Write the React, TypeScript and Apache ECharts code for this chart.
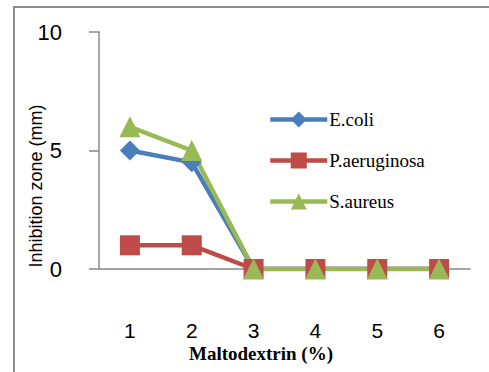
import React, { useEffect, useRef } from "react";
import * as echarts from "echarts";

const categories = ["1", "2", "3", "4", "5", "6"];
const ecoli = [5, 4.5, 0, 0, 0, 0];
const paeruginosa = [1, 1, 0, 0, 0, 0];
const saureus = [6, 5, 0, 0, 0, 0];
const seriesNames = ["E.coli", "P.aeruginosa", "S.aureus"];
const yTicks = { min: 0, max: 10, interval: 5 };
const xTitle = "Maltodextrin (%)";
const yTitle = "Inhibition zone (mm)";

export default function App() {
  const ref = useRef<HTMLDivElement>(null);
  useEffect(() => {
    if (!ref.current) return;
    const chart = echarts.init(ref.current, undefined, { renderer: "svg" });
    const mk = (name: string, data: number[], color: string, symbol: string, size: number) => ({
      name,
      type: "line",
      data,
      symbol,
      symbolSize: size,
      color,
      lineStyle: { color, width: 4.5 },
      itemStyle: { color },
    });
    chart.setOption({
      animation: false,
      grid: { left: 99, top: 32, right: 19, bottom: 103, containLabel: false },
      xAxis: {
        type: "category",
        data: categories,
        boundaryGap: true,
        axisLine: { lineStyle: { color: "#888888", width: 1.5 } },
        axisTick: { show: false },
        axisLabel: { color: "#000", fontFamily: "Liberation Sans", fontSize: 21, lineHeight: 21, margin: 51 },
      },
      yAxis: {
        type: "value",
        min: yTicks.min,
        max: yTicks.max,
        interval: yTicks.interval,
        axisLine: { show: true, lineStyle: { color: "#888888", width: 1.5 } },
        axisTick: { show: true, length: 10, lineStyle: { color: "#888888", width: 1.5 } },
        splitLine: { show: false },
        axisLabel: { color: "#000", fontFamily: "Liberation Sans", fontSize: 22, margin: 37 },
      },
      legend: {
        orient: "vertical",
        left: 268,
        top: 110,
        padding: 0,
        itemWidth: 57,
        itemHeight: 20,
        itemGap: 22,
        lineStyle: { width: 4.5 },
        textStyle: { fontFamily: "Liberation Serif", fontSize: 19, color: "#000", padding: [0, 0, 0, -3] },
        data: seriesNames,
      },
      graphic: [
        {
          type: "rect",
          shape: { x: 14, y: 7, width: 700, height: 600 },
          style: { fill: "none", stroke: "#8c8c8c", lineWidth: 2 },
          silent: true,
        },
        {
          type: "text",
          x: 36,
          y: 186,
          rotation: Math.PI / 2,
          style: {
            text: yTitle,
            fontFamily: "Liberation Sans",
            fontSize: 18,
            fill: "#000",
            textAlign: "center",
            textVerticalAlign: "middle",
          },
        },
        {
          type: "text",
          x: 261,
          y: 353,
          style: {
            text: xTitle,
            fontFamily: "Liberation Serif",
            fontWeight: "bold",
            fontSize: 19,
            fill: "#000",
            textAlign: "center",
            textVerticalAlign: "middle",
          },
        },
      ],
      series: [
        mk(seriesNames[0], ecoli, "#4a7ebb", "diamond", 20),
        mk(seriesNames[1], paeruginosa, "#be4b48", "rect", 20),
        mk(seriesNames[2], saureus, "#98b954", "triangle", 21),
      ],
    });
    return () => chart.dispose();
  }, []);
  return (
    <div
      ref={ref}
      style={{ position: "fixed", left: 0, top: 0, width: 489, height: 372, background: "#fff" }}
    />
  );
}
